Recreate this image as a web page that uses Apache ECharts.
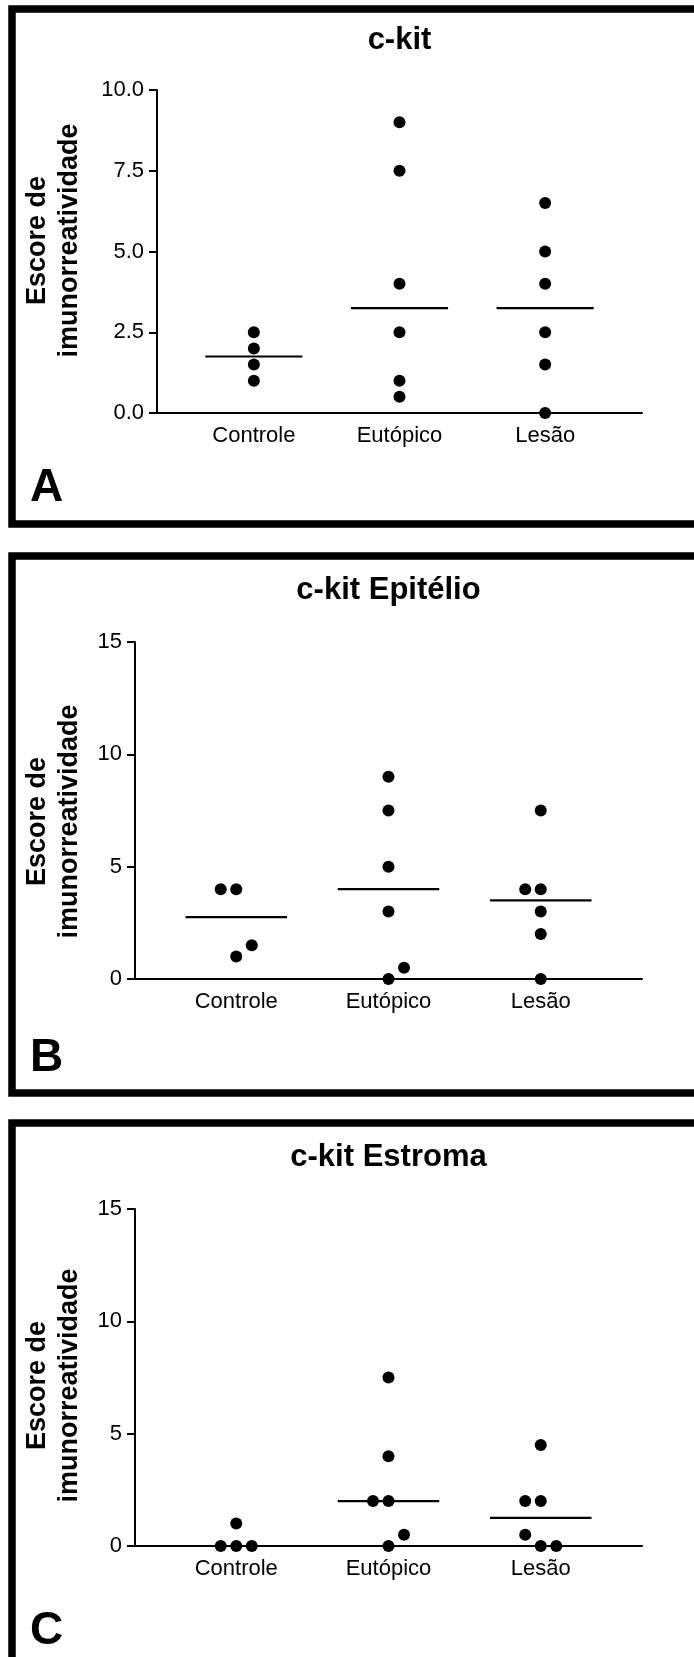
<!DOCTYPE html>
<html>
<head>
<meta charset="utf-8">
<script src="https://cdn.jsdelivr.net/npm/echarts@6/dist/echarts.min.js"></script>
<style>
html,body{margin:0;padding:0;background:#fff;}
#chart{width:694px;height:1657px;}
</style>
</head>
<body>
<div id="chart"></div>
<script>
// ---------- data ----------
const categories = ['Controle', 'Eutópico', 'Lesão'];
const panelTitles = ['c-kit', 'c-kit Epitélio', 'c-kit Estroma'];
const panelLetters = ['A', 'B', 'C'];
const yAxisTitle = 'Escore de\nimunorreatividade';

const ticksTotal = [0, 2.5, 5, 7.5, 10];
const ticksEpitelio = [0, 5, 10, 15];
const ticksEstroma = [0, 5, 10, 15];

// A: c-kit
const totalControle = [2.5, 2, 1.5, 1];
const totalEutopico = [9, 7.5, 4, 2.5, 1, 0.5];
const totalLesao = [6.5, 5, 4, 2.5, 1.5, 0];
const totalMedians = [1.75, 3.25, 3.25];

// B: c-kit Epitélio
const epitelioControle = [4, 4, 1.5, 1];
const epitelioEutopico = [9, 7.5, 5, 3, 0.5, 0];
const epitelioLesao = [7.5, 4, 4, 3, 2, 0];
const epitelioMedians = [2.75, 4, 3.5];

// C: c-kit Estroma
const estromaControle = [1, 0, 0, 0];
const estromaEutopico = [7.5, 4, 2, 2, 0.5, 0];
const estromaLesao = [4.5, 2, 2, 0.5, 0, 0];
const estromaMedians = [0, 2, 1.25];

// ---------- layout / style ----------
const FONT = "'Liberation Sans', Arial, Helvetica, sans-serif";
const DOT_SIZE = 12;
const SLOT_STEP = 0.102;      // horizontal step between side-by-side dots (x-axis units)
const HALF_MEDIAN = 1 / 3;    // half length of the median bar (x-axis units)
const X_MIN = -0.665, X_MAX = 2.665;

const panels = [
  { groups: [totalControle, totalEutopico, totalLesao], medians: totalMedians, ticks: ticksTotal, decimals: 1,
    grid: { left: 157, top: 90, width: 485, height: 323 }, nameGap: 71, namePad: [0, 0, 0, 22],
    titleTop: 25, titleCenter: 399.5, frame: { y: 9, h: 515 }, letterY: 488 },
  { groups: [epitelioControle, epitelioEutopico, epitelioLesao], medians: epitelioMedians, ticks: ticksEpitelio, decimals: 0,
    grid: { left: 135, top: 642, width: 507, height: 337 }, nameGap: 49, namePad: [0, 22, 0, 0],
    titleTop: 575, titleCenter: 388.5, frame: { y: 556, h: 537 }, letterY: 1058 },
  { groups: [estromaControle, estromaEutopico, estromaLesao], medians: estromaMedians, ticks: ticksEstroma, decimals: 0,
    grid: { left: 135, top: 1209, width: 507, height: 337 }, nameGap: 49, namePad: [0, 16, 0, 0],
    titleTop: 1142, titleCenter: 388.5, frame: { y: 1123, h: 700 }, letterY: 1631 }
];

// spread dots that would overlap (GraphPad-like scatter dot plot)
function layoutGroup(values, catIndex, pxPerUnit) {
  const sorted = values.slice().sort((a, b) => b - a);
  const rows = [];
  sorted.forEach(v => {
    const row = rows[rows.length - 1];
    if (row && (row[0] - v) * pxPerUnit < DOT_SIZE) row.push(v);
    else rows.push([v]);
  });
  const pts = [];
  rows.forEach(row => {
    const allTied = row.every(v => v === row[0]);
    row.forEach((v, k) => {
      let s = k - Math.floor(row.length / 2);
      if (row.length % 2 === 0 && !allTied) s = -s;
      pts.push([catIndex + s * SLOT_STEP, v]);
    });
  });
  return pts;
}

const grids = [], xAxes = [], yAxes = [], series = [], titles = [], graphics = [];

panels.forEach((p, i) => {
  const yMin = p.ticks[0], yMax = p.ticks[p.ticks.length - 1];
  const step = p.ticks[1] - p.ticks[0];
  grids.push(Object.assign({ outerBoundsMode: 'none', containLabel: false }, p.grid));

  xAxes.push({
    type: 'value', gridIndex: i, min: X_MIN, max: X_MAX,
    axisLine: { show: true, onZero: false, lineStyle: { color: '#000', width: 2 } },
    axisTick: { show: false },
    splitLine: { show: false },
    axisLabel: {
      customValues: categories.map((c, k) => k),
      formatter: v => categories[Math.round(v)],
      margin: 12, color: '#000', fontSize: 22, fontFamily: FONT
    }
  });

  yAxes.push({
    type: 'value', gridIndex: i, min: yMin, max: yMax, interval: step,
    axisLine: { show: true, onZero: false, lineStyle: { color: '#000', width: 2 } },
    axisTick: { show: true, length: 8, lineStyle: { color: '#000', width: 2 } },
    splitLine: { show: false },
    axisLabel: {
      margin: 13, color: '#000', fontSize: 22, fontFamily: FONT,
      formatter: v => Number(v).toFixed(p.decimals)
    },
    name: yAxisTitle, nameLocation: 'middle', nameRotate: 90, nameGap: p.nameGap,
    nameTextStyle: { color: '#000', fontSize: 27, fontWeight: 'bold', fontFamily: FONT, lineHeight: 32, padding: p.namePad }
  });

  const pxPerUnit = p.grid.height / (yMax - yMin);
  const medianData = p.medians.map((m, k) => [k, m]);
  series.push({
    type: 'custom', xAxisIndex: i, yAxisIndex: i, z: 2, silent: true,
    data: medianData,
    renderItem: (params, api) => {
      const c = api.value(0), m = api.value(1);
      const a = api.coord([c - HALF_MEDIAN, m]);
      const b = api.coord([c + HALF_MEDIAN, m]);
      return { type: 'line', shape: { x1: a[0], y1: a[1], x2: b[0], y2: b[1] },
               style: { stroke: '#000', lineWidth: 2.2 } };
    }
  });
  p.groups.forEach((vals, k) => {
    series.push({
      type: 'scatter', xAxisIndex: i, yAxisIndex: i, z: 3,
      symbol: 'circle', symbolSize: DOT_SIZE,
      itemStyle: { color: '#000', opacity: 1 },
      data: layoutGroup(vals, k, pxPerUnit)
    });
  });

  titles.push({
    text: panelTitles[i], left: p.titleCenter, textAlign: 'center', top: p.titleTop, padding: 0,
    textStyle: { color: '#000', fontSize: 31, fontWeight: 'bold', fontFamily: FONT }
  });

  graphics.push({
    type: 'rect', shape: { x: 12, y: p.frame.y, width: 720, height: p.frame.h },
    style: { fill: null, stroke: '#000', lineWidth: 7.5 }, z: 10, silent: true
  });
  graphics.push({
    type: 'text', x: 30, y: p.letterY,
    style: { text: panelLetters[i], fill: '#000', font: 'bold 46px ' + FONT, verticalAlign: 'middle', align: 'left' },
    z: 10, silent: true
  });
});

const chart = echarts.init(document.getElementById('chart'), null, { renderer: 'canvas', width: 694, height: 1657 });
chart.setOption({
  backgroundColor: '#fff',
  animation: false,
  title: titles,
  grid: grids,
  xAxis: xAxes,
  yAxis: yAxes,
  series: series,
  graphic: graphics
});
</script>
</body>
</html>
